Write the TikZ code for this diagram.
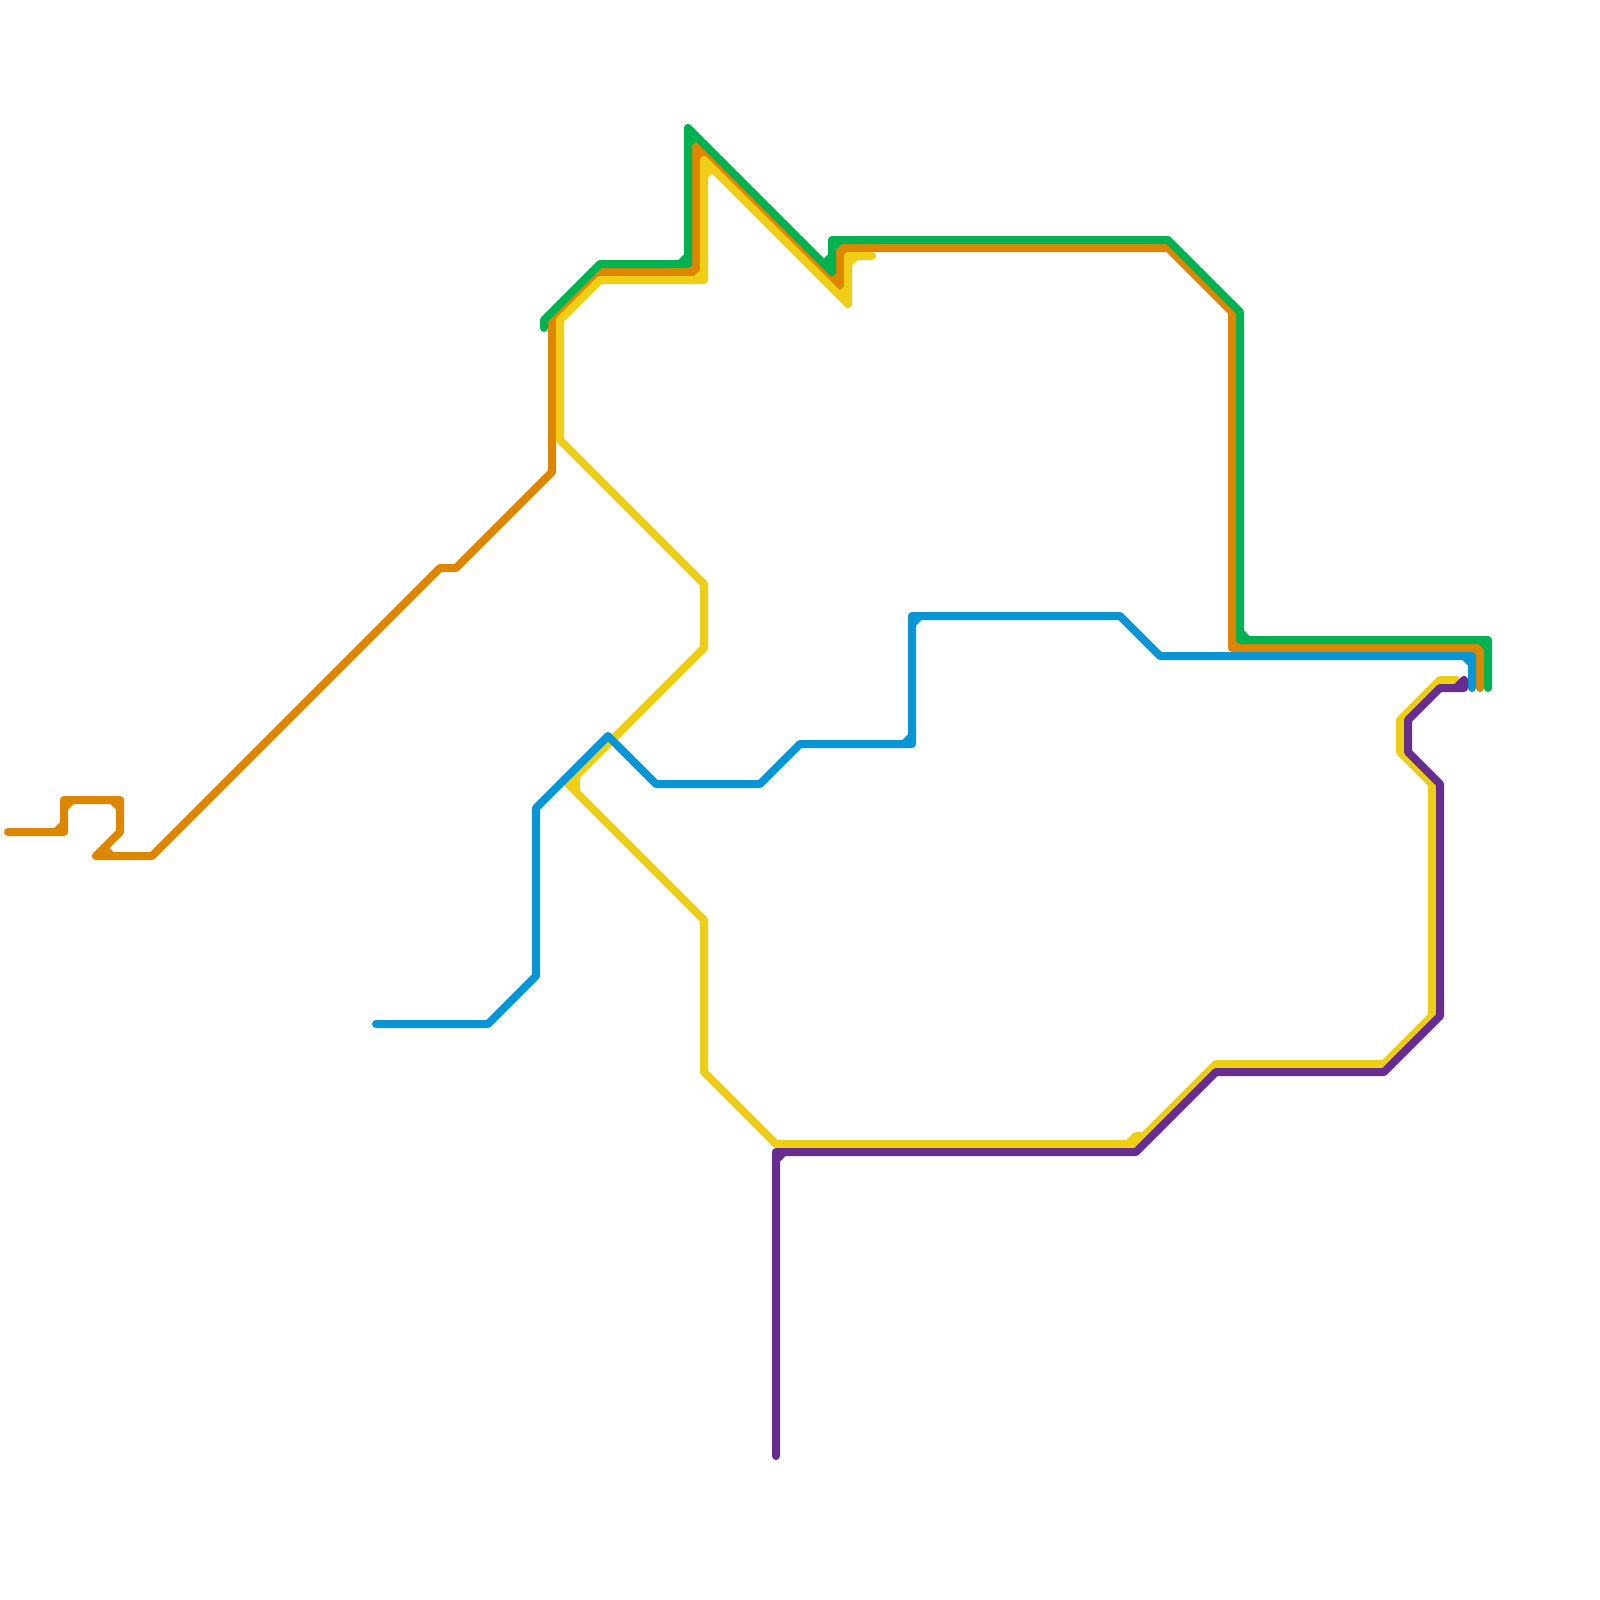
\documentclass[tikz,border=0pt]{standalone}
\definecolor{lineGreen}{HTML}{00B251}
\definecolor{lineOrange}{HTML}{DF8600}
\definecolor{lineYellow}{HTML}{F0CE15}
\definecolor{lineBlue}{HTML}{0896D7}
\definecolor{linePurple}{HTML}{662C90}
\tikzset{
  metro/.style={line width=4pt,line cap=round,line join=round},
  orangeline/.style={metro,draw=lineOrange},
  yellowline/.style={metro,draw=lineYellow},
  greenline/.style={metro,draw=lineGreen},
  blueline/.style={metro,draw=lineBlue},
  purpleline/.style={metro,draw=linePurple},
}
\begin{document}
\begin{tikzpicture}[x=0.5pt,y=-0.5pt]
\useasboundingbox (0,0) rectangle (1600,1600);
\fill[white] (0,0) rectangle (1600,1600);
% orange line
\draw[orangeline] (8,832) -- (64,832) -- (64,800) -- (120,800) -- (120,832) -- (96,856) -- (152,856) -- (440,568) -- (456,568) -- (552,472) -- (552,320) -- (600,272) -- (696,272) -- (696,144) -- (840,288) -- (840,248) -- (1168,248) -- (1232,312) -- (1232,648) -- (1480,648) -- (1480,688);
\draw[orangeline] (56,832) -- (64,824);
\draw[orangeline] (64,808) -- (72,800);
\draw[orangeline] (112,800) -- (120,808);
\draw[orangeline] (104,848) -- (112,856);
\draw[orangeline] (840,256) -- (848,248);
\draw[orangeline] (696,160) -- (704,152);
\draw[orangeline] (696,264) -- (688,272);
\draw[orangeline] (840,272) -- (832,280);
\draw[orangeline] (1232,640) -- (1240,648);
\draw[orangeline] (1472,648) -- (1480,656);
% yellow line
\draw[yellowline] (872,256) -- (848,256) -- (848,304) -- (704,160) -- (704,280) -- (600,280) -- (560,320) -- (560,440) -- (704,584) -- (704,648) -- (568,784) -- (704,920) -- (704,1072) -- (776,1144) -- (1136,1144) -- (1216,1064) -- (1384,1064) -- (1432,1016) -- (1432,784) -- (1400,752) -- (1400,720) -- (1440,680) -- (1456,680);
\draw[yellowline] (848,264) -- (856,256);
\draw[yellowline] (704,176) -- (712,168);
\draw[yellowline] (704,272) -- (696,280);
\draw[yellowline] (848,288) -- (840,296);
\draw[yellowline] (576,776) -- (576,792);
\draw[yellowline] (1128,1144) -- (1136,1136) -- (1144,1136);
% green line
\draw[greenline] (544,328) -- (544,320) -- (600,264) -- (688,264) -- (688,128) -- (832,272) -- (832,240) -- (1168,240) -- (1240,312) -- (1240,640) -- (1488,640) -- (1488,688);
\draw[greenline] (688,144) -- (696,136);
\draw[greenline] (688,256) -- (680,264);
\draw[greenline] (832,256) -- (824,264);
\draw[greenline] (832,248) -- (840,240);
\draw[greenline] (1240,632) -- (1248,640);
\draw[greenline] (1480,640) -- (1488,648);
% blue line
\draw[blueline] (376,1024) -- (488,1024) -- (536,976) -- (536,808) -- (608,736) -- (656,784) -- (760,784) -- (800,744) -- (912,744) -- (912,616) -- (1120,616) -- (1160,656) -- (1472,656) -- (1472,688);
\draw[blueline] (904,744) -- (912,736);
\draw[blueline] (912,624) -- (920,616);
\draw[blueline] (1464,656) -- (1472,664);
% purple line
\draw[purpleline] (776,1456) -- (776,1152) -- (1136,1152) -- (1216,1072) -- (1384,1072) -- (1440,1016) -- (1440,784) -- (1408,752) -- (1408,720) -- (1440,688) -- (1464,688) -- (1464,680);
\draw[purpleline] (776,1160) -- (784,1152);
\draw[purpleline] (1456,688) -- (1464,680);
\end{tikzpicture}
\end{document}
